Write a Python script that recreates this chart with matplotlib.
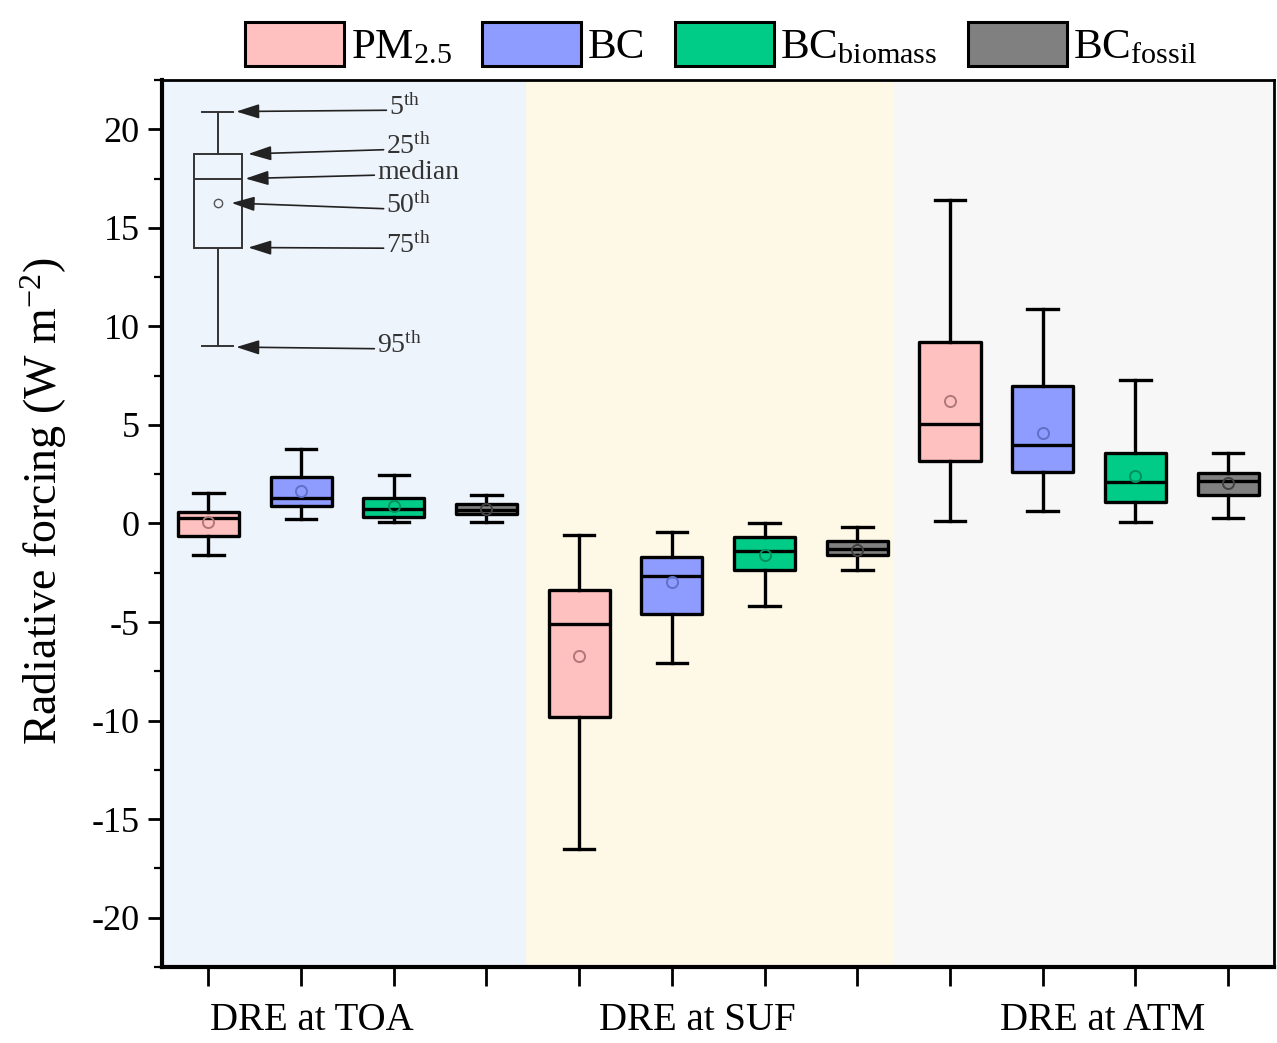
import matplotlib.pyplot as plt
import matplotlib.patches as mpatches
import numpy as np

plt.rcParams['font.family'] = ['Liberation Serif', 'DejaVu Serif']
plt.rcParams['mathtext.fontset'] = 'custom'
plt.rcParams['mathtext.rm'] = 'Liberation Serif'
plt.rcParams['mathtext.it'] = 'Liberation Serif:italic'
plt.rcParams['axes.unicode_minus'] = False

# data (W m-2)
species = ['PM$_{2.5}$', 'BC', 'BC$_{\\mathrm{biomass}}$', 'BC$_{\\mathrm{fossil}}$']
groups = ['DRE at TOA', 'DRE at SUF', 'DRE at ATM']
whis_hi = [1.57, 3.8, 2.44, 1.47,   -0.6, -0.42, 0.0, -0.17,   16.4, 10.9, 7.27, 3.56]
q3      = [0.56, 2.35, 1.27, 1.0,   -3.35, -1.7, -0.67, -0.9,  9.2, 6.96, 3.56, 2.54]
median  = [0.3, 1.27, 0.76, 0.7,    -5.1, -2.64, -1.4, -1.28,  5.03, 3.96, 2.08, 2.13]
mean    = [0.05, 1.63, 0.87, 0.72,  -6.7, -2.98, -1.6, -1.35,  6.2, 4.57, 2.39, 2.05]
q1      = [-0.61, 0.88, 0.35, 0.46, -9.8, -4.57, -2.34, -1.58, 3.15, 2.59, 1.07, 1.42]
whis_lo = [-1.58, 0.25, 0.05, 0.1,  -16.5, -7.1, -4.17, -2.34, 0.15, 0.61, 0.05, 0.3]

# sketch box explaining the percentiles
demo = dict(whislo=9.0, q1=14.0, med=17.5, q3=18.75, whishi=20.9, mean=16.26)
demo_labels = ['5$^{\\mathrm{th}}$', '25$^{\\mathrm{th}}$', 'median',
               '50$^{\\mathrm{th}}$', '75$^{\\mathrm{th}}$', '95$^{\\mathrm{th}}$']
demo_tips = [(1.30, 20.9), (1.43, 18.75), (1.40, 17.5), (1.25, 16.26), (1.43, 14.0), (1.30, 8.95)]
demo_text = [(2.95, 21.1), (2.92, 19.1), (2.82, 17.8), (2.92, 16.1), (2.92, 14.1), (2.82, 9.0)]

fills = ['#FFC0C0', '#8F9CFF', '#00CC88', '#808080']
mean_edge = ['#B07878', '#6070C8', '#00905E', '#404040']
bands = [(0.5, 4.43, '#EEF4FC'), (4.43, 8.38, '#FEF8E6'), (8.38, 12.5, '#F7F7F7')]

fig = plt.figure(figsize=(12.77, 10.43), dpi=100)
ax = fig.add_axes([0.1269, 0.0729, 0.8711, 0.8504])

for a, b, c in bands:
    ax.axvspan(a, b, color=c, zorder=0, lw=0)

pos = np.arange(1, 13)
for i in range(12):
    st = dict(whislo=whis_lo[i], q1=q1[i], med=median[i], q3=q3[i],
              whishi=whis_hi[i], mean=mean[i])
    k = i % 4
    ax.bxp([st], positions=[pos[i]], widths=0.66, showmeans=True,
           showfliers=False, patch_artist=True,
           boxprops=dict(facecolor=fills[k], edgecolor='black', linewidth=2.4, joinstyle='round'),
           medianprops=dict(color='black', linewidth=2.4),
           whiskerprops=dict(color='black', linewidth=2.4),
           capprops=dict(color='black', linewidth=2.4),
           capwidths=0.33,
           meanprops=dict(marker='o', markerfacecolor='none', markeredgecolor=mean_edge[k],
                          markersize=8, markeredgewidth=1.4),
           zorder=3)

ax.bxp([demo], positions=[1.1], widths=0.52, showmeans=True, showfliers=False,
       patch_artist=True,
       boxprops=dict(facecolor='none', edgecolor='#333333', linewidth=1.4),
       medianprops=dict(color='#333333', linewidth=1.4),
       whiskerprops=dict(color='#333333', linewidth=1.4),
       capprops=dict(color='#333333', linewidth=1.4),
       capwidths=0.33,
       meanprops=dict(marker='o', markerfacecolor='none', markeredgecolor='#555555',
                      markersize=6, markeredgewidth=1.0),
       zorder=3)
for lab, tip, txt in zip(demo_labels, demo_tips, demo_text):
    ax.annotate(lab, xy=tip, xytext=txt, ha='left', va='center', fontsize=20, color='#333333',
                arrowprops=dict(arrowstyle='-|>,head_length=0.7,head_width=0.22', color='#222222',
                                lw=1.2, shrinkA=0, shrinkB=0, relpos=(0, 0.4)))

ax.set_xlim(0.5, 12.5)
ax.set_ylim(-22.5, 22.5)
ax.set_xticks(pos)
ax.set_xticklabels([])
ax.set_yticks(np.arange(-20, 21, 5))
ax.set_yticks(np.arange(-22.5, 22.6, 2.5), minor=True)
ax.tick_params(axis='y', which='major', direction='out', length=10, width=2, labelsize=26, pad=6)
ax.tick_params(axis='y', which='minor', direction='out', length=6, width=1.6)
ax.tick_params(axis='x', which='major', direction='out', length=14, width=2)
for s in ['left', 'bottom']:
    ax.spines[s].set_linewidth(3)
for s in ['top', 'right']:
    ax.spines[s].set_linewidth(2)
ax.set_ylabel('Radiative forcing (W m$^{-2}$)', fontsize=33, labelpad=8)
ax.yaxis.set_label_coords(-0.084, 0.525)

for x, g in zip([2.12, 6.27, 10.65], groups):
    ax.text(x, -0.06, g, transform=ax.get_xaxis_transform(), ha='center', va='center', fontsize=28)

handles = [mpatches.Patch(facecolor=fills[k], edgecolor='black', linewidth=2.2) for k in range(4)]
ax.legend(handles, species, loc='lower center', bbox_to_anchor=(0.503, 0.99), ncol=4,
          frameon=False, fontsize=31, handlelength=2.3, handleheight=1.2,
          handletextpad=0.15, columnspacing=0.7, borderaxespad=0.1)

plt.savefig('out.png')
